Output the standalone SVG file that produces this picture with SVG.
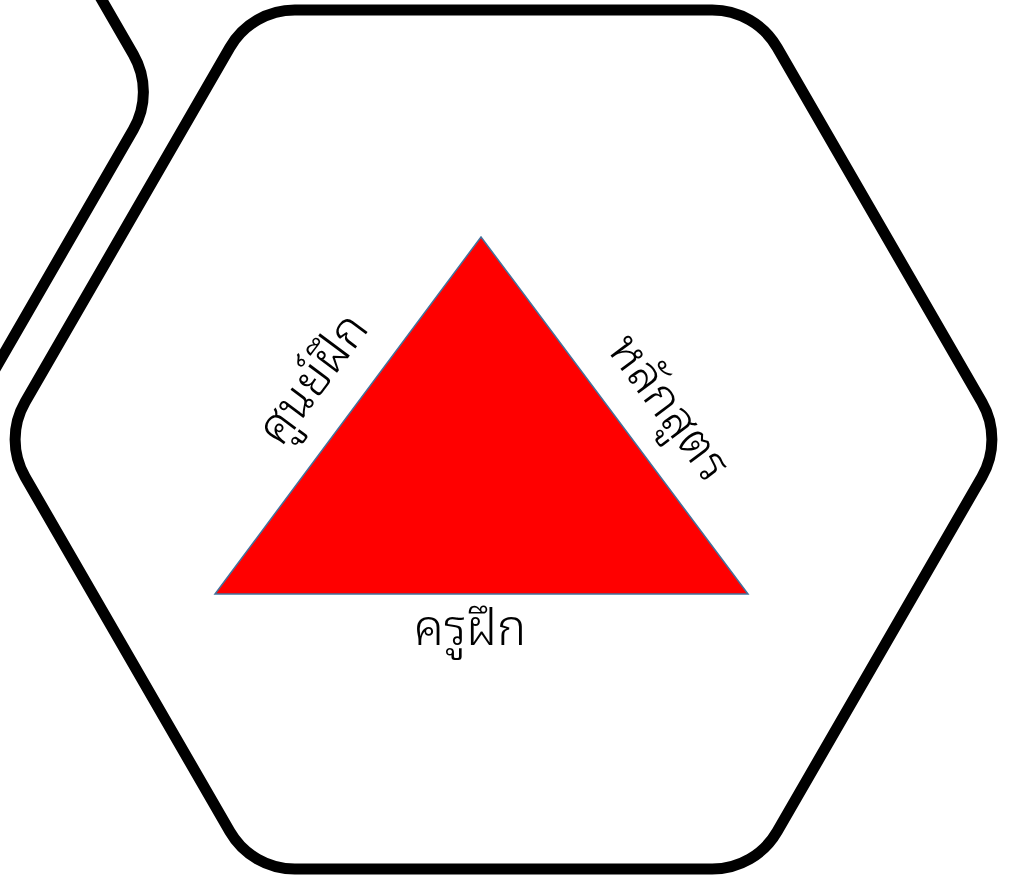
<svg xmlns="http://www.w3.org/2000/svg" xmlns:xlink="http://www.w3.org/1999/xlink" width="1012" height="880" viewBox="0 0 1012 880">
  <style>
    .hex { fill: #ffffff; stroke: #000000; stroke-width: 11; stroke-linejoin: round; }
    .tri { fill: #ff0000; stroke: #41719c; stroke-width: 1.5; }
    .lbl { font-family: "Noto Sans Thai Looped", "Noto Sans Thai", "Leelawadee UI", Tahoma, "Noto Sans", "DejaVu Sans", sans-serif; font-size: 49px; font-weight: 300; fill: #000000; text-anchor: middle; }
  </style>
  <defs>
    <path id="hexShape" d="M294.8,10 L712.2,10 A75,75 0 0 1 777.15,47.5 L981.85,402 A75,75 0 0 1 981.85,477 L777.15,831.5 A75,75 0 0 1 712.2,869 L294.8,869 A75,75 0 0 1 229.85,831.5 L25.15,477 A75,75 0 0 1 25.15,402 L229.85,47.5 A75,75 0 0 1 294.8,10 Z"/>
  </defs>
  <rect x="0" y="0" width="1012" height="880" fill="#ffffff"/>
  <g id="hex-left">
    <use xlink:href="#hexShape" class="hex" transform="translate(-848.5,-347.5)"/>
  </g>
  <g id="hex-main">
    <use xlink:href="#hexShape" class="hex"/>
  </g>
  <g id="triangle">
    <polygon class="tri" points="481,237 748,594 215,594"/>
  </g>
  <g id="label-left">
    <text class="lbl" transform="translate(316,381) rotate(-53.3)" x="0" y="12">ศูนย์ฝึก</text>
  </g>
  <g id="label-right">
    <text class="lbl" transform="translate(666,410) rotate(53.3)" x="0" y="12">หลักสูตร</text>
  </g>
  <g id="label-bottom">
    <text class="lbl" x="470" y="645">ครูฝึก</text>
  </g>
  <g id="connectors"/>
</svg>
